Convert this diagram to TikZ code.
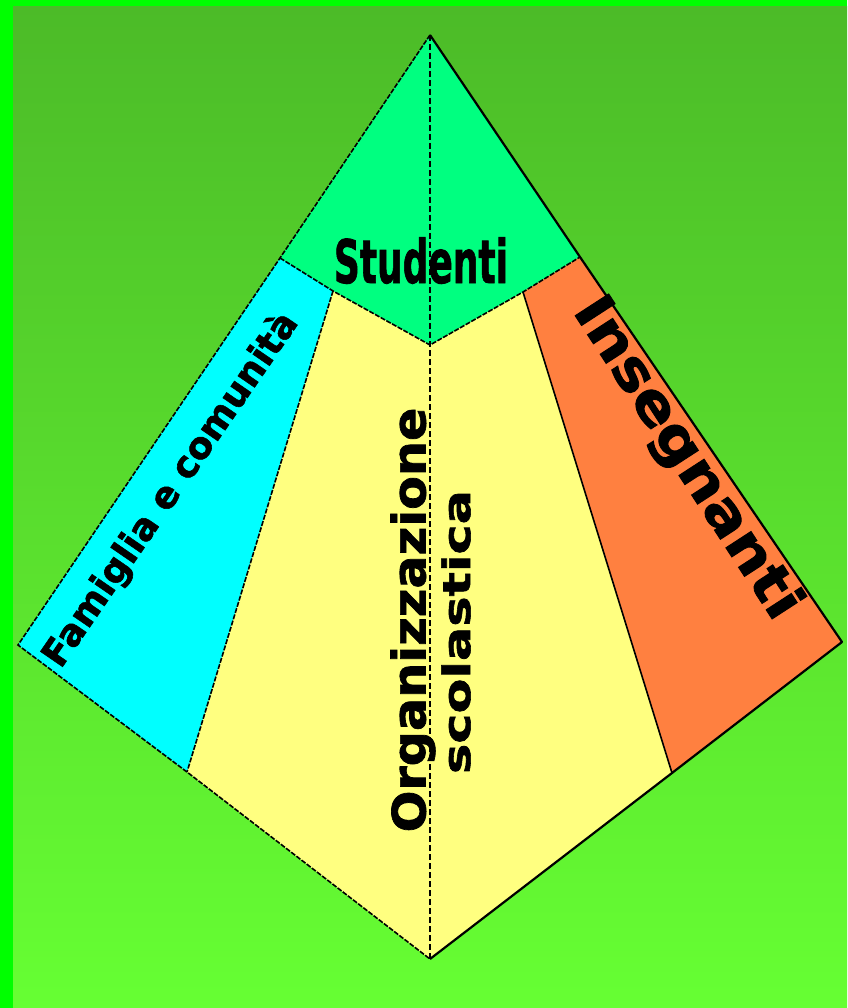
\documentclass[tikz,border=0pt]{standalone}
\usepackage{fontspec}
\setmainfont{DejaVu Sans}[BoldFeatures={FakeBold=1.5}]
\definecolor{bordergreen}{RGB}{0,255,0}
\definecolor{bgtop}{RGB}{76,187,40}
\definecolor{bgbot}{RGB}{102,255,51}
\definecolor{mint}{RGB}{0,255,128}
\definecolor{cyanface}{RGB}{0,255,255}
\definecolor{yellowface}{RGB}{255,255,128}
\definecolor{orangeface}{RGB}{255,128,64}
\tikzset{
  lbl/.style={text=black, inner sep=0pt},
  solidedge/.style={draw=black, line width=2.2pt, line join=round},
  softedge/.style={draw=black, line width=1.6pt, dash pattern=on 5pt off 1.5pt},
  axisline/.style={draw=black, line width=1.4pt, dash pattern=on 6pt off 3pt}
}
\begin{document}
\begin{tikzpicture}[x=1pt,y=-1pt]
\useasboundingbox (0,0) rectangle (847,1008);
\fill[bordergreen] (0,0) rectangle (847,1008);
\shade[top color=bgtop, bottom color=bgbot] (13,7) rectangle (847,1008);
% vertices
\coordinate (A) at (430,35);
\coordinate (L) at (18,645);
\coordinate (R) at (842,642);
\coordinate (B) at (430,959);
\coordinate (GL) at (280,258);
\coordinate (GR) at (580,257);
\coordinate (GB) at (430,345);
\coordinate (CY) at (333,291);
\coordinate (OY) at (523,292);
\coordinate (CB) at (187,772);
\coordinate (OB) at (672,773);
% faces
\fill[mint] (A) -- (GL) -- (CY) -- (GB) -- (OY) -- (GR) -- cycle;
\fill[cyanface] (GL) -- (L) -- (CB) -- (CY) -- cycle;
\fill[yellowface] (CY) -- (CB) -- (B) -- (OB) -- (OY) -- (GB) -- cycle;
\fill[orangeface] (OY) -- (OB) -- (R) -- (GR) -- cycle;
% edges
\draw[softedge] (A) -- (GL) -- (L) -- (CB) -- (B);
\draw[solidedge] (A) -- (GR) -- (R) -- (OB) -- (B);
\draw[softedge] (GL) -- (CY) -- (GB) -- (OY) -- (GR);
\draw[softedge] (CY) -- (CB);
\draw[solidedge, line width=1.6pt] (OY) -- (OB);
\draw[axisline] (A) -- (B);
% labels
\node[lbl, font=\bfseries\fontsize{40}{44}\selectfont, xscale=0.9, yscale=1.5, anchor=base] (stud) at (421,283) {Studenti};
\node[lbl, font=\bfseries\fontsize{37}{40}\selectfont, rotate=55.5] (fam) at (171,490) {Famiglia e comunità};
\node[lbl, font=\bfseries\fontsize{55}{60}\selectfont, rotate=-57, xscale=1.13] (ins) at (686,459) {Insegnanti};
\node[lbl, font=\bfseries\fontsize{46}{50}\selectfont, rotate=90, xscale=1.07] (org) at (413,620) {Organizzazione};
\node[lbl, font=\bfseries\fontsize{38}{40}\selectfont, rotate=90, xscale=1.34] (sco) at (456,632) {scolastica};
\end{tikzpicture}
\end{document}
